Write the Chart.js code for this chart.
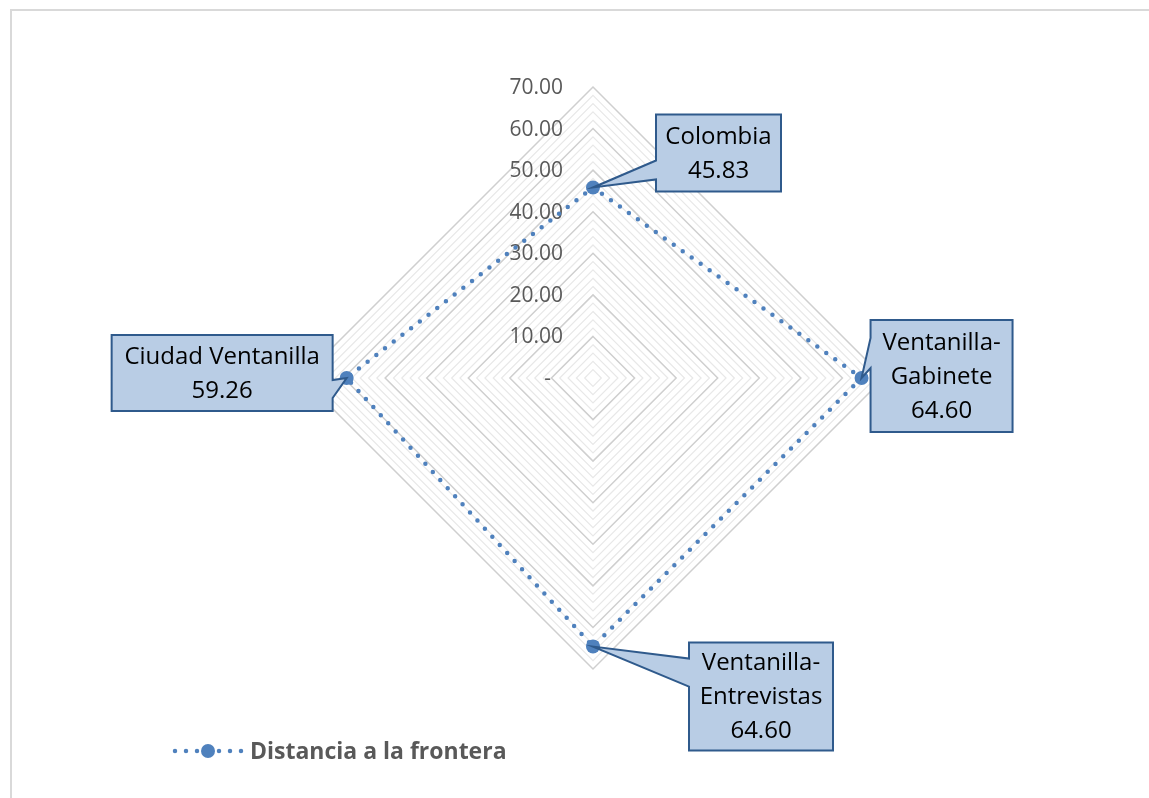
<!DOCTYPE html>
<html>
<head>
<meta charset="utf-8">
<title>Distancia a la frontera</title>
<script src="https://cdn.jsdelivr.net/npm/chart.js@4.4.1/dist/chart.umd.min.js"></script>
<style>
  html, body { margin: 0; padding: 0; background: #fff; overflow: hidden; }
  #frame { position: absolute; left: 10px; top: 9px; width: 1200px; height: 850px;
           border-left: 2px solid #d9d9d9; border-top: 2px solid #d9d9d9; }
  #chart { position: absolute; left: 0; top: 0; }
</style>
</head>
<body>
<div id="frame"></div>
<canvas id="chart" width="1149" height="798"></canvas>
<script>
// datos
const categories = ['Colombia', 'Ventanilla-Gabinete', 'Ventanilla-Entrevistas', 'Ciudad Ventanilla'];
const distancia = [45.83, 64.60, 64.60, 59.26];
const seriesName = 'Distancia a la frontera';
const tickValues = [0, 10, 20, 30, 40, 50, 60, 70];
const tickLabels = ['-', '10.00', '20.00', '30.00', '40.00', '50.00', '60.00', '70.00'];

const BLUE = '#4f81bd';
const FONT = "'Open Sans', 'Liberation Sans', sans-serif";

// caja de cada etiqueta, relativa al punto (dx, dy = esquina sup. izq.)
const calloutBoxes = [
  { dx: 63,   dy: -73, w: 125, h: 77,  side: 'left',  b1: 46, b2: 65 },
  { dx: 9,    dy: -58, w: 142, h: 112, side: 'left',  b1: 18, b2: 48 },
  { dx: 96,   dy: -4,  w: 144, h: 108, side: 'left',  b1: 16, b2: 44 },
  { dx: -235, dy: -43, w: 221, h: 76,  side: 'right', b1: 45, b2: 63 }
];

const tickLabelPlugin = {
  id: 'tickLabels',
  beforeDatasetsDraw(chart) {
    const r = chart.scales.r;
    const ctx = chart.ctx;
    ctx.save();
    ctx.font = '21px ' + FONT;
    ctx.fillStyle = '#595959';
    ctx.textAlign = 'right';
    ctx.textBaseline = 'middle';
    tickValues.forEach((v, i) => {
      const y = r.yCenter - r.getDistanceFromCenterForValue(v);
      const x = r.xCenter - (v === 0 ? 42 : 30);
      ctx.fillText(tickLabels[i], x, y + 1);
    });
    ctx.restore();
  }
};

const calloutPlugin = {
  id: 'callouts',
  afterDatasetsDraw(chart) {
    const ctx = chart.ctx;
    const meta = chart.getDatasetMeta(0);
    meta.data.forEach((pt, i) => {
      const b = calloutBoxes[i];
      const left = pt.x + b.dx, top = pt.y + b.dy;
      const right = left + b.w, bottom = top + b.h;
      ctx.save();
      ctx.beginPath();
      if (b.side === 'left') {
        ctx.moveTo(left, top);
        ctx.lineTo(right, top);
        ctx.lineTo(right, bottom);
        ctx.lineTo(left, bottom);
        ctx.lineTo(left, top + b.b2);
        ctx.lineTo(pt.x, pt.y);
        ctx.lineTo(left, top + b.b1);
      } else {
        ctx.moveTo(left, top);
        ctx.lineTo(right, top);
        ctx.lineTo(right, top + b.b1);
        ctx.lineTo(pt.x, pt.y);
        ctx.lineTo(right, top + b.b2);
        ctx.lineTo(right, bottom);
        ctx.lineTo(left, bottom);
      }
      ctx.closePath();
      ctx.fillStyle = '#b9cde5';
      ctx.fill();
      ctx.lineWidth = 2;
      ctx.strokeStyle = '#2f5a8c';
      ctx.lineJoin = 'miter';
      ctx.stroke();

      const lines = categories[i].replace('-', '-\n').split('\n');
      lines.push(distancia[i].toFixed(2));
      const lh = 34;
      const cy = (top + bottom) / 2 + 1;
      ctx.font = '24px ' + FONT;
      ctx.fillStyle = '#000';
      ctx.textAlign = 'center';
      ctx.textBaseline = 'middle';
      lines.forEach((t, k) => {
        ctx.fillText(t, (left + right) / 2, cy + (k - (lines.length - 1) / 2) * lh);
      });
      ctx.restore();
    });
  },
  afterDraw(chart) {
    // leyenda
    const ctx = chart.ctx;
    const y = 751;
    ctx.save();
    ctx.strokeStyle = BLUE;
    ctx.lineWidth = 4.5;
    ctx.lineCap = 'round';
    ctx.setLineDash([0, 11]);
    ctx.beginPath();
    ctx.moveTo(175, y);
    ctx.lineTo(242, y);
    ctx.stroke();
    ctx.setLineDash([]);
    ctx.fillStyle = BLUE;
    ctx.beginPath();
    ctx.arc(208, y, 7, 0, Math.PI * 2);
    ctx.fill();
    ctx.font = 'bold 23px ' + FONT;
    ctx.fillStyle = '#595959';
    ctx.textAlign = 'left';
    ctx.textBaseline = 'middle';
    ctx.fillText(seriesName, 250, y + 1);
    ctx.restore();
  }
};

new Chart(document.getElementById('chart'), {
  type: 'radar',
  data: {
    labels: categories,
    datasets: [{
      label: seriesName,
      data: distancia,
      borderColor: BLUE,
      borderWidth: 4.5,
      borderDash: [0, 11],
      borderCapStyle: 'round',
      fill: false,
      pointRadius: 7,
      pointHoverRadius: 7,
      pointBorderWidth: 0,
      pointBackgroundColor: BLUE,
      pointBorderColor: BLUE
    }]
  },
  options: {
    responsive: false,
    devicePixelRatio: 1,
    animation: false,
    events: [],
    layout: { padding: { top: 87, bottom: 129, left: 300, right: 263 } },
    plugins: {
      legend: { display: false },
      tooltip: { enabled: false }
    },
    scales: {
      r: {
        min: 0,
        max: 70,
        ticks: { stepSize: 2, display: false },
        pointLabels: { display: false },
        angleLines: { display: false },
        grid: {
          color: (c) => (c.tick && c.tick.value % 10 === 0) ? '#cfcfcf' : '#e8e8e8',
          lineWidth: (c) => (c.tick && c.tick.value % 10 === 0) ? 1.5 : 1.2
        }
      }
    }
  },
  plugins: [tickLabelPlugin, calloutPlugin]
});
</script>
</body>
</html>
